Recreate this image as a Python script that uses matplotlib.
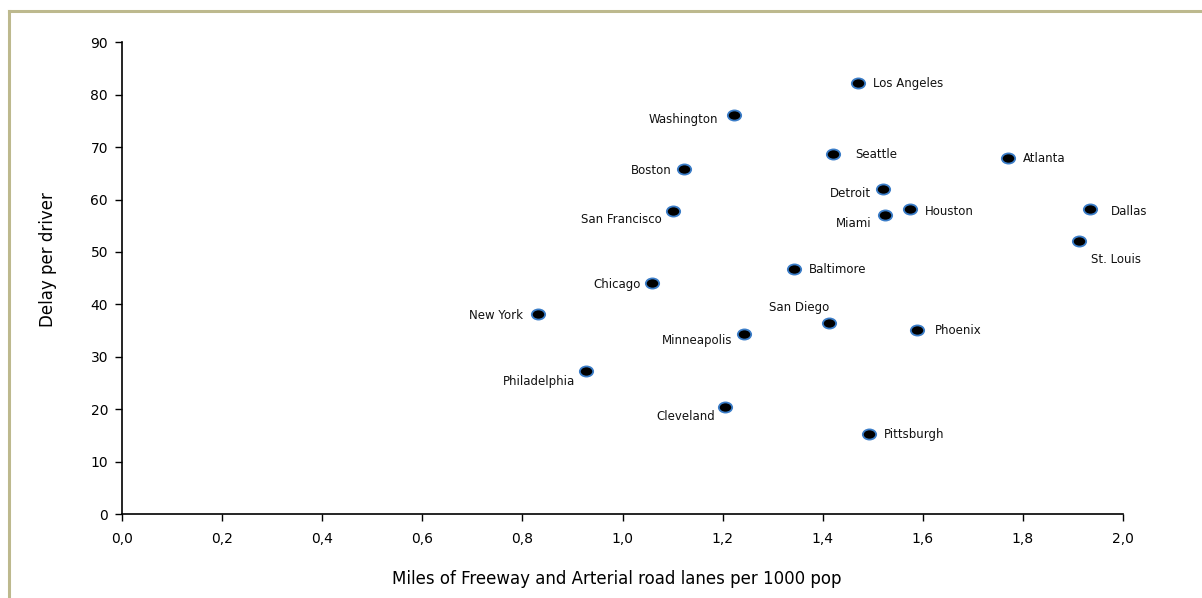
import numpy as np
import matplotlib
matplotlib.use('Agg')
import matplotlib.pyplot as plt
from matplotlib.path import Path
from matplotlib.lines import Line2D
from matplotlib.ticker import FuncFormatter

# data
cities = ['Los Angeles', 'Washington', 'Seattle', 'Atlanta', 'Boston', 'Detroit',
          'San Francisco', 'Houston', 'Miami', 'Dallas', 'St. Louis', 'Baltimore',
          'Chicago', 'New York', 'San Diego', 'Phoenix', 'Minneapolis',
          'Philadelphia', 'Cleveland', 'Pittsburgh']
lane_miles = [1.470, 1.223, 1.420, 1.770, 1.123, 1.520, 1.101, 1.574, 1.524, 1.935,
              1.912, 1.343, 1.058, 0.832, 1.413, 1.588, 1.243, 0.928, 1.204, 1.492]
delay = [82.2, 76.1, 68.7, 68.0, 65.8, 62.1, 57.9, 58.1, 57.0, 58.1,
         52.1, 46.8, 44.0, 38.1, 36.5, 35.2, 34.3, 27.2, 20.4, 15.3]

x_ticks = [0.0, 0.2, 0.4, 0.6, 0.8, 1.0, 1.2, 1.4, 1.6, 1.8, 2.0]
y_ticks = [0, 10, 20, 30, 40, 50, 60, 70, 80, 90]

# where each label sits relative to its dot (pixels, y up) and its alignment
label_pos = {
    'Los Angeles': (15, 0, 'left'),
    'Washington': (-16, -4, 'right'),
    'Seattle': (23, -1, 'left'),
    'Atlanta': (15, -1, 'left'),
    'Boston': (-12, -1, 'right'),
    'Detroit': (-12, -5, 'right'),
    'San Francisco': (-11, -9, 'right'),
    'Houston': (15, -2, 'left'),
    'Miami': (-13, -8, 'right'),
    'Dallas': (20, -2, 'left'),
    'St. Louis': (12, -19, 'left'),
    'Baltimore': (15, -1, 'left'),
    'Chicago': (-11, -1, 'right'),
    'New York': (-15, -1, 'right'),
    'San Diego': (0, 15, 'right'),
    'Phoenix': (18, -1, 'left'),
    'Minneapolis': (-12, -6, 'right'),
    'Philadelphia': (-11, -10, 'right'),
    'Cleveland': (-9, -9, 'right'),
    'Pittsburgh': (15, -1, 'left'),
}

plt.rcParams['font.family'] = ['DejaVu Sans']

fig = plt.figure(figsize=(12.02, 5.98), dpi=100)
ax = fig.add_axes([122 / 1202, 1 - 514 / 598, 1001 / 1202, 471.7 / 598])

# flat ellipse marker
circ = Path.unit_circle()
ellipse = Path(circ.vertices * np.array([1.0, 0.76]), circ.codes)

ax.plot(lane_miles, delay, linestyle='none', marker=ellipse, markersize=9.6,
        markerfacecolor='black', markeredgecolor='#3b7dc8', markeredgewidth=1.3,
        clip_on=False)

for name, xv, yv in zip(cities, lane_miles, delay):
    dx, dy, ha = label_pos[name]
    ax.annotate(name, (xv, yv), xytext=(dx, dy), textcoords='offset pixels',
                ha=ha, va='center', fontsize=8.5, color='#111111')

ax.set_xlim(0, 2.0)
ax.set_ylim(0, 90)
ax.set_xticks(x_ticks)
ax.set_yticks(y_ticks)
ax.xaxis.set_major_formatter(FuncFormatter(lambda v, p: ('%.1f' % v).replace('.', ',')))
ax.tick_params(axis='both', direction='out', length=5, width=1, labelsize=10,
               color='black')
ax.tick_params(axis='x', pad=8)
ax.tick_params(axis='y', pad=5)

for s in ['top', 'right']:
    ax.spines[s].set_visible(False)
for s in ['left', 'bottom']:
    ax.spines[s].set_linewidth(1.2)

ax.set_xlabel('Miles of Freeway and Arterial road lanes per 1000 pop', fontsize=12)
ax.set_ylabel('Delay per driver', fontsize=12)
ax.xaxis.set_label_coords(0.494, -0.138)
ax.xaxis.label.set_va('center')
ax.yaxis.set_label_coords(-0.074, 0.54)
ax.yaxis.label.set_va('center')

# tan frame along top and left edge
frame_col = '#bdb98e'
fig.add_artist(Line2D([9 / 1202, 9 / 1202], [0, 1 - 11 / 598], color=frame_col,
                      linewidth=2.2, transform=fig.transFigure))
fig.add_artist(Line2D([9 / 1202, 1], [1 - 11 / 598, 1 - 11 / 598], color=frame_col,
                      linewidth=2.2, transform=fig.transFigure))

fig.savefig('out.png', dpi=100)
